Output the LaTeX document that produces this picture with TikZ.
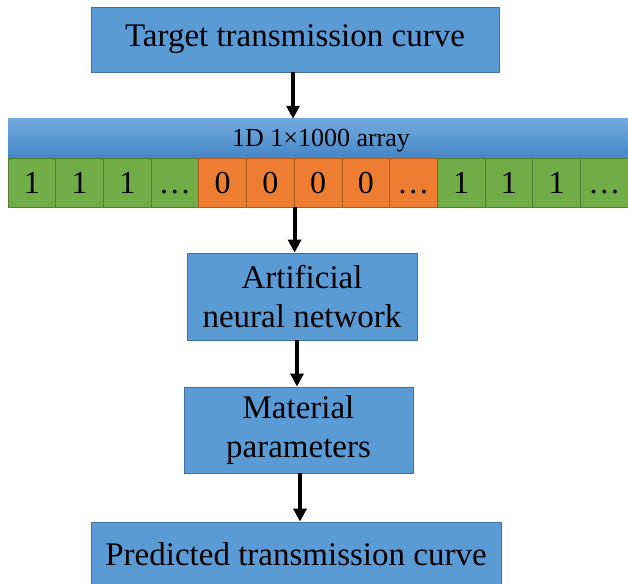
\documentclass[tikz,border=0pt]{standalone}
\usepackage{fontspec}
\setmainfont{Liberation Serif}
\usetikzlibrary{positioning, arrows.meta}

\definecolor{boxblue}{HTML}{5B9BD5}
\definecolor{boxline}{HTML}{41719C}
\definecolor{barlight}{HTML}{72AADF}
\definecolor{bardark}{HTML}{4586C6}
\definecolor{cellgreen}{HTML}{70AD47}
\definecolor{greenline}{HTML}{507E32}
\definecolor{cellorange}{HTML}{ED7D31}
\definecolor{orangeline}{HTML}{AE5A21}

\begin{document}
\begin{tikzpicture}[
  x=1pt, y=1pt,
  box/.style={rectangle, draw=boxline, fill=boxblue, line width=0.8pt,
              font=\fontsize{33}{39}\selectfont, align=center,
              inner sep=0pt},
  cell/.style={rectangle, draw, line width=0.8pt, inner sep=0pt,
               minimum width=47.7pt, minimum height=49pt,
               text height=22pt, text depth=0pt,
               font=\fontsize{32}{38}\selectfont},
  one/.style={cell, fill=cellgreen, draw=greenline},
  zero/.style={cell, fill=cellorange, draw=orangeline},
  arr/.style={-{Triangle[length=13pt,width=13pt]}, line width=3.8pt}
]
  \clip (0,0) rectangle (628,583);

  % Input curve
  \node[box, minimum width=408pt, minimum height=65pt] (target) at (295,543.5)
       {Target transmission curve};

  % Array bar
  \node[rectangle, inner sep=0pt, top color=barlight, bottom color=bardark,
        minimum width=640pt, minimum height=39pt] (bar) at (328,444.5) {};
  \node[font=\fontsize{26}{30}\selectfont] (barlabel) at (321,442)
       {1D 1×1000 array};

  % Cells
  \foreach \i/\s/\v in {1/one/1, 2/one/1, 3/one/1, 4/one/…,
                        5/zero/0, 6/zero/0, 7/zero/0, 8/zero/0, 9/zero/…,
                        10/one/1, 11/one/1, 12/one/1, 13/one/…}
    \node[\s] (c\i) at ({8+47.7*(\i-0.5)},400.5) {\v};

  % Network and outputs
  \node[box, minimum width=230pt, minimum height=87pt] (ann) at (302,286.5)
       {Artificial\\neural network};
  \node[box, minimum width=229pt, minimum height=86pt] (mat) at (298.5,153)
       {Material\\parameters};
  \node[box, minimum width=410pt, minimum height=65pt] (pred) at (296,28.5)
       {Predicted transmission curve};

  % Arrows
  \draw[arr] ([xshift=-2pt]target.south) -- ([xshift=-2pt]target.south |- bar.north);
  \draw[arr] (c6.south east) -- (c6.south east |- ann.north);
  \draw[arr] ([xshift=-5pt]ann.south) -- ([xshift=-5pt]ann.south |- mat.north);
  \draw[arr] ([xshift=1.5pt]mat.south) -- ([xshift=1.5pt]mat.south |- pred.north);
\end{tikzpicture}
\end{document}
